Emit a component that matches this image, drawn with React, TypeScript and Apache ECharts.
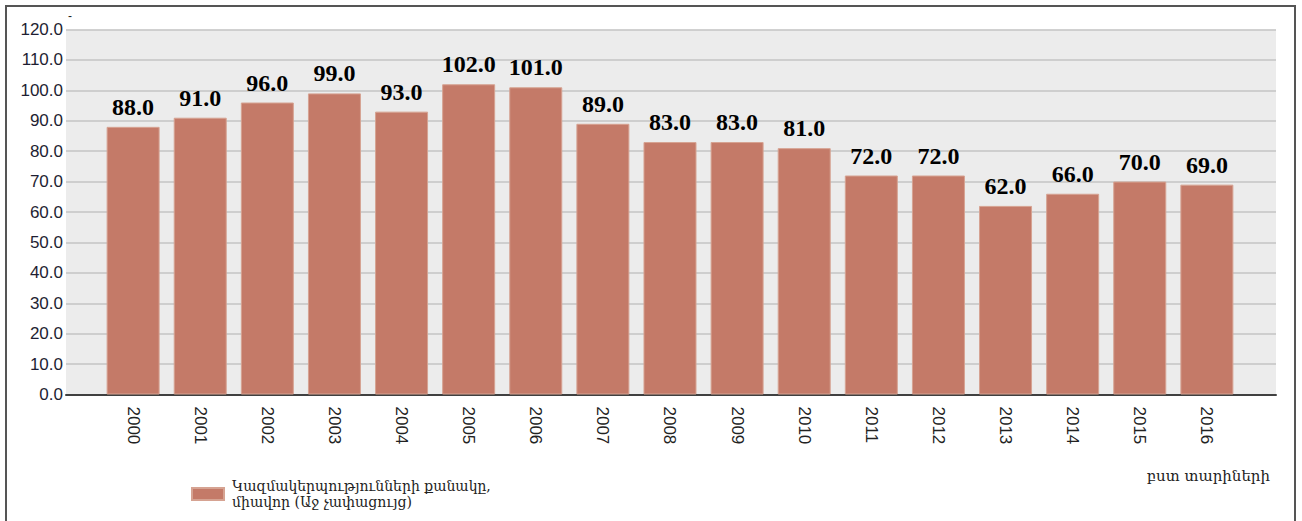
import React, { useEffect, useRef } from "react";
import * as echarts from "echarts";

const years = ["2000","2001","2002","2003","2004","2005","2006","2007","2008","2009","2010","2011","2012","2013","2014","2015","2016"];
const values = [88, 91, 96, 99, 93, 102, 101, 89, 83, 83, 81, 72, 72, 62, 66, 70, 69];
const seriesName = "Կազմակերպությունների քանակը,\nմիավոր (Աջ չափացույց)";
const xAxisNote = "բստ տարիների";

export default function App() {
  const ref = useRef<HTMLDivElement>(null);
  useEffect(() => {
    if (!ref.current) return;
    const chart = echarts.init(ref.current, undefined, { renderer: "svg" });
    const data = years.map((_, i) => [i, values[i]]);
    chart.setOption({
      animation: false,
      backgroundColor: "#ffffff",
      grid: {
        left: 66,
        top: 29.5,
        width: 1210,
        height: 365,
        show: true,
        backgroundColor: "#ececec",
        borderWidth: 0,
      },
      legend: {
        left: 191,
        top: 478,
        padding: 0,
        icon: "rect",
        itemWidth: 32,
        itemHeight: 12,
        textStyle: {
          fontFamily: "DejaVu Serif",
          fontSize: 14,
          lineHeight: 16,
          color: "#222",
          padding: [0, 0, 0, 3],
        },
        data: [seriesName],
      },
      xAxis: {
        type: "value",
        min: -1,
        max: 17.03,
        interval: 1,
        splitLine: { show: false },
        axisTick: { show: false },
        axisLine: { show: true, lineStyle: { color: "#404040", width: 2 } },
        axisLabel: {
          rotate: -90,
          margin: 12,
          fontFamily: "Liberation Sans",
          fontSize: 17,
          color: "#222",
          showMinLabel: false,
          showMaxLabel: false,
          formatter: (v: number) => (Number.isInteger(v) && years[v] !== undefined ? years[v] : ""),
        },
      },
      yAxis: {
        type: "value",
        min: 0,
        max: 120,
        interval: 10,
        axisLine: { show: false },
        axisTick: { show: false },
        splitLine: { show: true, lineStyle: { color: "#c4c4c4", width: 1.5 } },
        axisLabel: {
          margin: 3,
          fontFamily: "Liberation Sans",
          fontSize: 17,
          color: "#1e1e32",
          formatter: (v: number) => v.toFixed(1),
        },
      },
      series: [
        {
          name: seriesName,
          type: "bar",
          barWidth: 53,
          data,
          itemStyle: { color: "#c47a68", borderColor: "#d6a392", borderWidth: 1 },
          label: {
            show: true,
            position: "top",
            distance: 8,
            fontFamily: "Liberation Serif",
            fontWeight: "bold",
            fontSize: 24,
            color: "#000",
            formatter: (p: any) => Number(p.value[1]).toFixed(1),
          },
        },
      ],
      graphic: [
        {
          type: "rect",
          silent: true,
          shape: { x: 6, y: 6, width: 1289, height: 530 },
          style: { fill: "none", stroke: "#555", lineWidth: 2 },
        },
        {
          type: "text",
          x: 1270,
          y: 476,
          style: {
            text: xAxisNote,
            fontFamily: "DejaVu Serif",
            fontSize: 15,
            fill: "#222",
            align: "right",
            verticalAlign: "middle",
          },
        },
        {
          type: "text",
          x: 68,
          y: 16,
          style: {
            text: "-",
            fontFamily: "Liberation Sans",
            fontSize: 12,
            fill: "#222",
            align: "left",
            verticalAlign: "middle",
          },
        },
      ],
    });
    return () => chart.dispose();
  }, []);
  return (
    <div
      ref={ref}
      style={{ position: "absolute", left: 0, top: 0, width: 1302, height: 521 }}
    />
  );
}
